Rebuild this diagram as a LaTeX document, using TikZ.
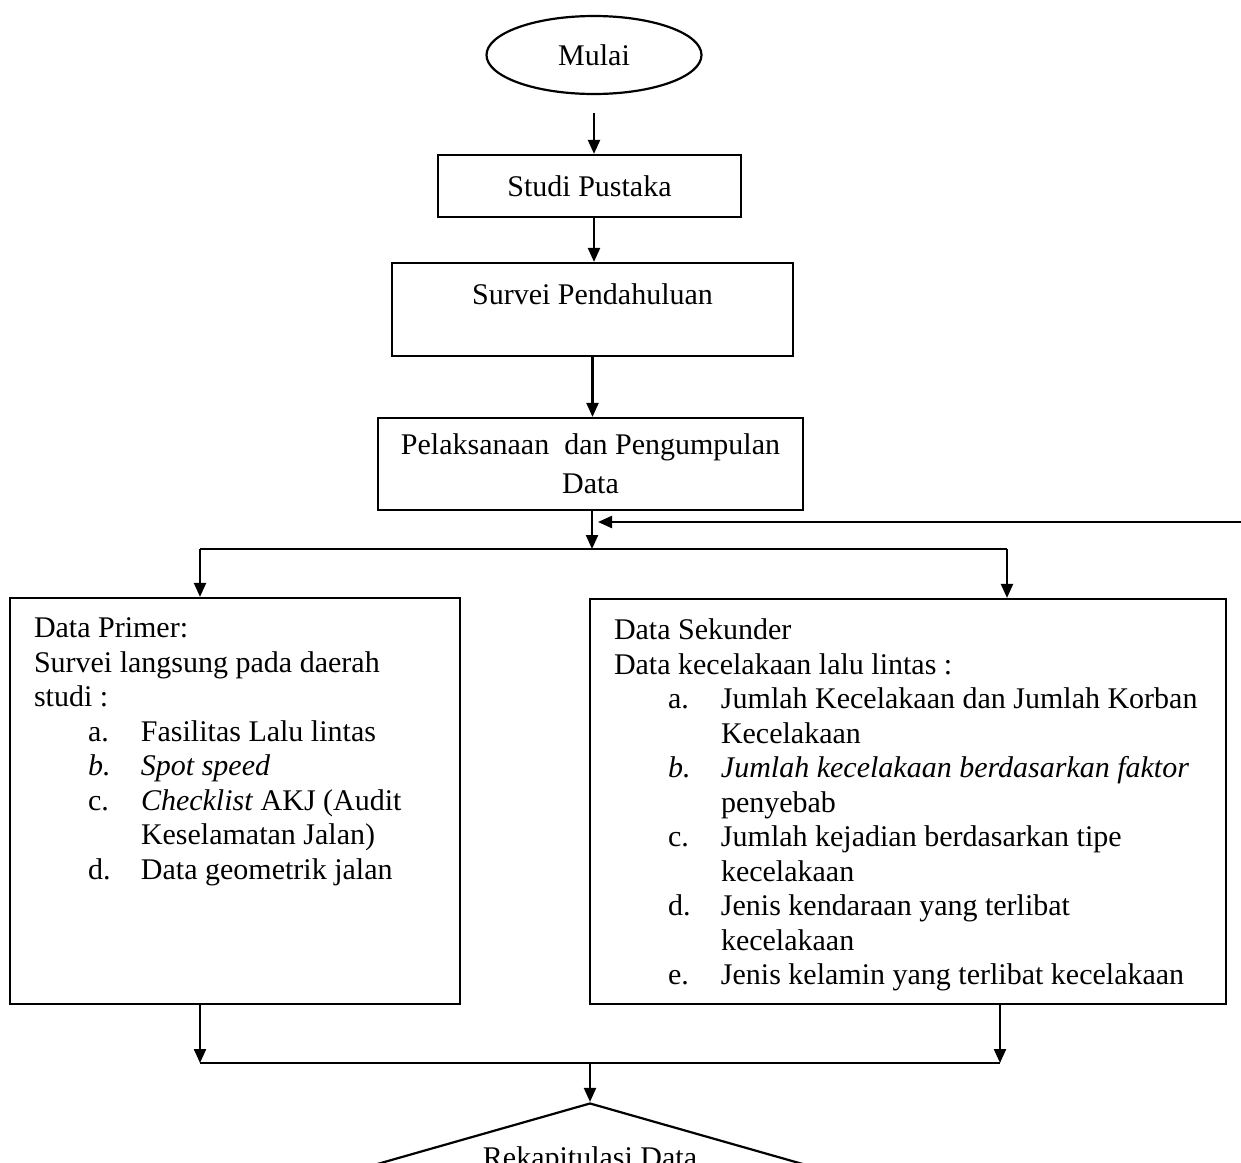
\documentclass[tikz,border=0pt]{standalone}
\usepackage{fontspec}
\setmainfont{Liberation Serif}
\usepackage{tikz}
\usetikzlibrary{arrows.meta,shapes.geometric}

\newcommand{\butir}[2]{\hspace*{27pt}\makebox[26.5pt][l]{#1}#2}
\newcommand{\lanjut}[1]{\hspace*{53.5pt}#1}

\begin{document}
\begin{tikzpicture}[x=0.5pt,y=0.5pt,yscale=-1,xscale=1,
  font=\fontsize{15}{17.25}\selectfont,
  garis/.style={line width=1.1pt},
  alur/.style={garis,-{Triangle[width=6pt,length=7pt]}},
  kotak/.style={draw,garis,rectangle,inner sep=3pt,align=center},
  daftar/.style={draw,garis,rectangle,inner xsep=12pt,inner ysep=10pt}]
%set diagram to the size of the page
\useasboundingbox (0,0) rectangle (1241,1162);
\clip (0,0) rectangle (1241,1162);

%Shape: Ellipse
\node [draw,garis,ellipse,minimum width=107.5pt,minimum height=39pt,inner sep=0pt] (mulai) at (594,55) {Mulai};
%Shape: Rectangle
\node [kotak,minimum width=151.5pt,minimum height=31pt] (studi) at (589.5,186) {Studi Pustaka};
%Shape: Rectangle
\node [kotak,minimum width=200.5pt,minimum height=46.5pt,text height=10.5pt,text depth=16pt] (survei) at (592.5,309.5) {Survei Pendahuluan};
%Shape: Rectangle
\node [kotak,minimum width=212.5pt,minimum height=46pt] (laksana) at (590.5,464) {Pelaksanaan \ dan Pengumpulan\\[2.25pt] Data};

%Shape: Rectangle
\node [daftar] (primer) at (235,801) {\parbox[c][183pt][t]{201pt}{%
Data Primer:\\
Survei langsung pada daerah\\
studi :\\
\butir{a.}{Fasilitas Lalu lintas}\\
\butir{\textit{b.}}{\textit{Spot speed}}\\
\butir{c.}{\textit{Checklist} AKJ (Audit}\\
\lanjut{Keselamatan Jalan)}\\
\butir{d.}{Data geometrik jalan}}};
%Shape: Rectangle
\node [daftar] (sekunder) at (908,801.5) {\parbox[c][182.5pt][t]{294pt}{%
Data Sekunder\\
Data kecelakaan lalu lintas :\\
\butir{a.}{Jumlah Kecelakaan dan Jumlah Korban}\\
\lanjut{Kecelakaan}\\
\butir{\textit{b.}}{\textit{Jumlah kecelakaan berdasarkan faktor}}\\
\lanjut{penyebab}\\
\butir{c.}{Jumlah kejadian berdasarkan tipe}\\
\lanjut{kecelakaan}\\
\butir{d.}{Jenis kendaraan yang terlibat}\\
\lanjut{kecelakaan}\\
\butir{e.}{Jenis kelamin yang terlibat kecelakaan}}};

%Shape: Diamond
\node [draw,garis,diamond,minimum width=322pt,minimum height=92pt,inner sep=0pt] (rekap) at (590,1195) {};
% Text Node
\node [anchor=base] (rekapteks) at (590,1167) {Rekapitulasi Data};

%Straight Lines
\coordinate (cabang) at (592,549);
\coordinate (kiriatas) at (200,549);
\coordinate (kananatas) at (1007,549);
\coordinate (balik) at (1241,522);
\coordinate (kiribawah) at (200,1063);
\coordinate (kananbawah) at (1000,1063);
\coordinate (gabung) at (590,1063);

\draw [alur] ([yshift=9pt]mulai.south) -- (mulai.south |- studi.north);
\draw [alur] (mulai.south |- studi.south) -- (mulai.south |- survei.north);
\draw [alur] (survei.south) -- (survei.south |- laksana.north);
\draw [alur] (cabang |- laksana.south) -- (cabang);
\draw [alur] (balik) -- ([xshift=3]cabang |- balik);
\draw [garis] (kiriatas) -- (kananatas);
\draw [alur] (kiriatas) -- (kiriatas |- primer.north);
\draw [alur] (kananatas) -- (kananatas |- sekunder.north);
\draw [alur] (kiribawah |- primer.south) -- (kiribawah);
\draw [alur] (kananbawah |- sekunder.south) -- (kananbawah);
\draw [garis] (kiribawah) -- (kananbawah);
\draw [alur] (gabung) -- (rekap.north);

\end{tikzpicture}
\end{document}
